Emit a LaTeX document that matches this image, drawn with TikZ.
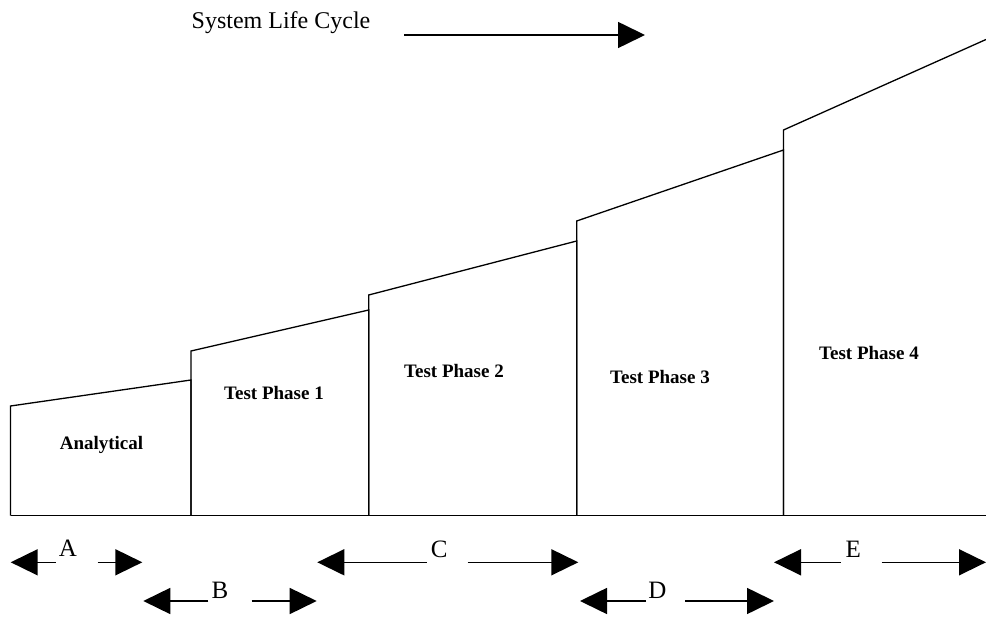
\documentclass[tikz,border=0pt]{standalone}
\usepackage{fontspec}
\setmainfont{Liberation Serif}
\usetikzlibrary{arrows.meta}
\begin{document}
\begin{tikzpicture}[x=1pt,y=-1pt,
  outline/.style={line width=1.3pt, line join=miter},
  bigarrow/.style={line width=1.6pt, -{Triangle[length=27pt,width=26pt]}},
  phase/.style={font=\fontsize{19}{22}\selectfont\bfseries},
  letter/.style={font=\fontsize{25}{28}\selectfont, inner sep=0pt},
  title/.style={font=\fontsize{24}{28}\selectfont, inner sep=0pt, anchor=west}]
\useasboundingbox (0,0) rectangle (986,617);

% corner points of the rising blocks
\coordinate (b0) at (10.5,515.7);
\coordinate (b1) at (191,515.7);
\coordinate (b2) at (368.7,515.7);
\coordinate (b3) at (576.7,515.7);
\coordinate (b4) at (783.5,515.7);
\coordinate (b5) at (986,515.7);

% the five blocks
\draw[outline] (b0) -- (10.5,406) -- (191,380) -- (b1);
\draw[outline] (b1) -- (191,351) -- (368.7,310) -- (b2);
\draw[outline] (b2) -- (368.7,295) -- (576.7,241) -- (b3);
\draw[outline] (b3) -- (576.7,221) -- (783.5,150) -- (b4);
\draw[outline] (b4) -- (783.5,130) -- (986,39.5);
\draw[outline] (b0) -- (b5);

% block labels
\node[phase] (an) at (101.5,445) {Analytical};
\node[phase] (p1) at (274,393) {Test Phase 1};
\node[phase] (p2) at (454,371) {Test Phase 2};
\node[phase] (p3) at (660,377) {Test Phase 3};
\node[phase] (p4) at (869,353) {Test Phase 4};

% life cycle heading
\node[title] (slc) at (191.5,23) {System Life Cycle};
\coordinate (slcA) at (404,35);
\coordinate (slcB) at (645,35);
\draw[bigarrow] (slcA) -- (slcB);

% span markers below the blocks
\node[letter] (A) at (68,548) {A};
\coordinate (Al) at (55.7,562.3);  \coordinate (Alt) at (10.7,562.3);
\coordinate (Ar) at (97.7,562.3);  \coordinate (Art) at (142.3,562.3);
\draw[bigarrow] (Al) -- (Alt);
\draw[bigarrow] (Ar) -- (Art);

\node[letter] (B) at (220,590) {B};
\coordinate (Bl) at (208.3,601);   \coordinate (Blt) at (143.3,601);
\coordinate (Br) at (251.7,601);   \coordinate (Brt) at (316.7,601);
\draw[bigarrow] (Bl) -- (Blt);
\draw[bigarrow] (Br) -- (Brt);

\node[letter] (C) at (439.3,549) {C};
\coordinate (Cl) at (426.7,562.3); \coordinate (Clt) at (317.3,562.3);
\coordinate (Cr) at (467.7,562.3); \coordinate (Crt) at (578.3,562.3);
\draw[bigarrow] (Cl) -- (Clt);
\draw[bigarrow] (Cr) -- (Crt);

\node[letter] (D) at (657.3,590) {D};
\coordinate (Dl) at (646,601);     \coordinate (Dlt) at (580,601);
\coordinate (Dr) at (685,601);     \coordinate (Drt) at (774,601);
\draw[bigarrow] (Dl) -- (Dlt);
\draw[bigarrow] (Dr) -- (Drt);

\node[letter] (E) at (853.3,549) {E};
\coordinate (El) at (840.7,562.3); \coordinate (Elt) at (774,562.3);
\coordinate (Er) at (881.7,562.3); \coordinate (Ert) at (986,562.3);
\draw[bigarrow] (El) -- (Elt);
\draw[bigarrow] (Er) -- (Ert);
\end{tikzpicture}
\end{document}
